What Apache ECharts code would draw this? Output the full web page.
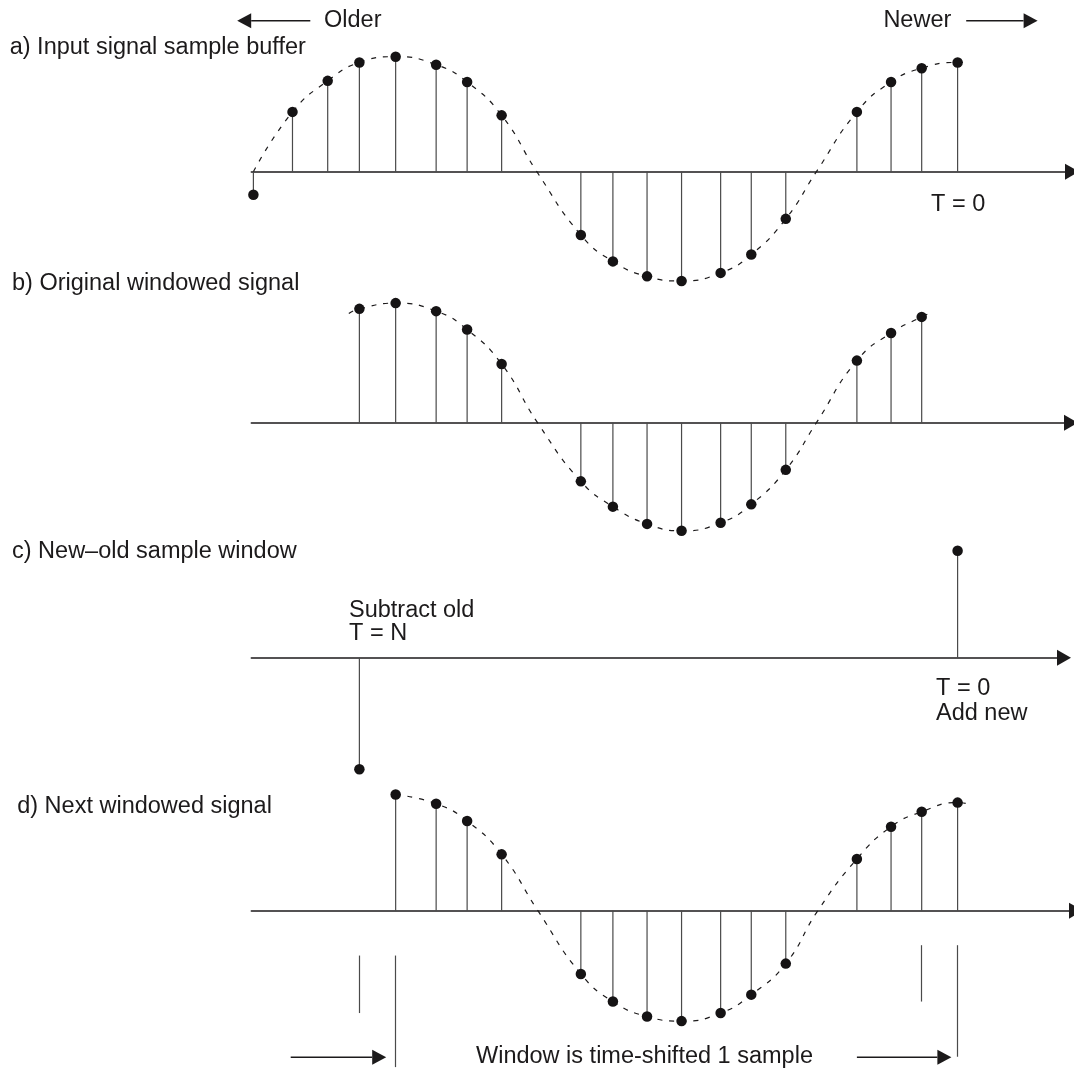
<!DOCTYPE html>
<html><head><meta charset="utf-8">
<script src="https://cdn.jsdelivr.net/npm/echarts@6/dist/echarts.min.js"></script>
<style>html,body{margin:0;padding:0;background:#fff;} #c{width:1074px;height:1072px;}</style>
</head><body><div id="c"></div>
<script>
// ---- data (sample index units / normalised amplitude) ----
const sampleTimes = [0, 1.11, 2.11, 3.01, 4.04, 5.19, 6.07, 7.05, 9.30, 10.21, 11.18, 12.16, 13.27, 14.14, 15.12, 17.14, 18.11, 18.98, 20.00];
// a) Input signal sample buffer
const bufferValues = [-0.20, 0.52, 0.79, 0.95, 1.00, 0.93, 0.78, 0.49, -0.55, -0.78, -0.91, -0.95, -0.88, -0.72, -0.41, 0.52, 0.78, 0.90, 0.95];
// b) Original windowed signal
const windowValues = [null, null, null, 0.99, 1.04, 0.97, 0.81, 0.51, -0.51, -0.73, -0.88, -0.94, -0.87, -0.71, -0.41, 0.54, 0.78, 0.92, null];
// c) New-old sample window
const newOldValues = [null, null, null, -0.97, null, null, null, null, null, null, null, null, null, null, null, null, null, null, 0.93];
// d) Next windowed signal
const nextWindowValues = [null, null, null, null, 1.01, 0.93, 0.78, 0.49, -0.55, -0.79, -0.92, -0.96, -0.89, -0.73, -0.46, 0.45, 0.73, 0.86, 0.94];
// points of the dashed envelope that are not samples (axis crossings and ends)
const curveExtraA = [[0, 0], [8.05, 0], [15.99, 0], [20.15, 0.95]];
const curveExtraB = [[2.71, 0.95], [8.07, 0], [15.99, 0], [19.27, 0.96]];
const curveExtraD = [[8.08, 0], [16.03, 0], [20.27, 0.93]];
// window boundary markers under panel d: [time, top, bottom]
const boundaryMarks = [[3.01, -0.39, -0.89], [4.04, -0.39, -1.36], [18.98, -0.30, -0.79], [20.00, -0.30, -1.27]];

const panelLabels = ['a) Input signal sample buffer', 'b) Original windowed signal', 'c) New\u2013old sample window', 'd) Next windowed signal'];

// ---- helpers ----
function pairs(vals) {
  const out = [];
  vals.forEach((v, i) => { if (v !== null) out.push([sampleTimes[i], v]); });
  return out;
}
function curve(vals, extra, skipFirst) {
  let pts = pairs(vals);
  if (skipFirst) pts = pts.slice(1);
  return pts.concat(extra).sort((p, q) => p[0] - q[0]);
}

const INK = '#1c1a1b';
const FONT = 'normal 23.5px "Liberation Sans", Arial, Helvetica, sans-serif';
const PXU = 35.21;          // px per sample
const XMIN = -0.06;
const LEFT = 253.4 + XMIN * PXU;
const YU = 115;             // px per amplitude unit

// panel layout: axis pixel row, right end of axis, y range
const panels = [
  { axisY: 171.7, right: 1072, ymax: 1.3, ymin: -1.2 },
  { axisY: 422.7, right: 1071, ymax: 1.2, ymin: -1.2 },
  { axisY: 657.7, right: 1064, ymax: 1.2, ymin: -1.2 },
  { axisY: 910.7, right: 1076, ymax: 1.2, ymin: -1.5 }
];

const grids = [], xAxes = [], yAxes = [];
panels.forEach((p, i) => {
  const width = p.right - LEFT;
  grids.push({ left: LEFT, top: p.axisY - p.ymax * YU, width: width, height: (p.ymax - p.ymin) * YU, outerBoundsMode: 'none', containLabel: false });
  xAxes.push({
    type: 'value', gridIndex: i, min: XMIN, max: XMIN + width / PXU,
    axisLine: { show: true, onZero: true, symbol: ['none', 'triangle'], symbolSize: [16, 14], lineStyle: { color: INK, width: 1.5 } },
    axisTick: { show: false }, axisLabel: { show: false }, splitLine: { show: false }
  });
  yAxes.push({ type: 'value', gridIndex: i, min: p.ymin, max: p.ymax, show: false, splitLine: { show: false } });
});

function stems(i, vals, extra) {
  const s = {
    type: 'bar', xAxisIndex: i, yAxisIndex: i, data: pairs(vals), barWidth: 1.2,
    itemStyle: { color: '#4a4a4a' }, z: 2, silent: true
  };
  if (extra) s.markLine = extra;
  return s;
}
function dots(i, vals) {
  return {
    type: 'scatter', xAxisIndex: i, yAxisIndex: i, data: pairs(vals), symbol: 'circle', symbolSize: 10.5,
    itemStyle: { color: '#151314', opacity: 1 }, z: 3, silent: true
  };
}
function envelope(i, data) {
  return {
    type: 'line', xAxisIndex: i, yAxisIndex: i, data: data, smooth: 0.5, showSymbol: false, symbol: 'none',
    lineStyle: { color: INK, width: 1.2, type: [5, 7] }, z: 1, silent: true
  };
}

const boundaryMarkLine = {
  silent: true, symbol: ['none', 'none'], label: { show: false },
  lineStyle: { color: '#4a4a4a', width: 1.2, type: 'solid' },
  data: boundaryMarks.map(b => [{ coord: [b[0], b[1]] }, { coord: [b[0], b[2]] }])
};

const series = [
  envelope(0, curve(bufferValues, curveExtraA, true)), stems(0, bufferValues), dots(0, bufferValues),
  envelope(1, curve(windowValues, curveExtraB, false)), stems(1, windowValues), dots(1, windowValues),
  stems(2, newOldValues), dots(2, newOldValues),
  envelope(3, curve(nextWindowValues, curveExtraD, false)), stems(3, nextWindowValues, boundaryMarkLine), dots(3, nextWindowValues)
];

function txt(s, x, y) {
  return { type: 'text', x: x, y: y, silent: true, style: { text: s, font: FONT, fill: INK, align: 'left', verticalAlign: 'middle' } };
}
function arrow(x1, x2, y, dir) {
  // horizontal arrow from x1 to tip x2
  const headL = 14, headH = 7.5;
  const base = x2 - dir * headL;
  return [
    { type: 'line', silent: true, shape: { x1: x1, y1: y, x2: base, y2: y }, style: { stroke: INK, lineWidth: 1.4 } },
    { type: 'polygon', silent: true, shape: { points: [[x2, y], [base, y - headH], [base, y + headH]] }, style: { fill: INK } }
  ];
}

const graphic = [
  txt(panelLabels[0], 9.7, 48),
  txt(panelLabels[1], 12, 283.5),
  txt(panelLabels[2], 12, 551.5),
  txt(panelLabels[3], 17.2, 806.5),
  txt('Older', 324, 21),
  txt('Newer', 883.4, 21),
  txt('T = 0', 931, 205),
  txt('Subtract old', 349, 611),
  txt('T = N', 349, 634),
  txt('T = 0', 936, 689),
  txt('Add new', 936, 714),
  txt('Window is time-shifted 1 sample', 476, 1057)
].concat(arrow(310.3, 237.2, 20.7, -1), arrow(966.2, 1037.6, 20.7, 1),
         arrow(290.7, 386.2, 1057.3, 1), arrow(856.9, 951.4, 1057.3, 1));

const chart = echarts.init(document.getElementById('c'), null, { renderer: 'canvas' });
chart.setOption({
  animation: false,
  backgroundColor: '#ffffff',
  grid: grids, xAxis: xAxes, yAxis: yAxes,
  series: series,
  graphic: graphic
});
</script></body></html>
